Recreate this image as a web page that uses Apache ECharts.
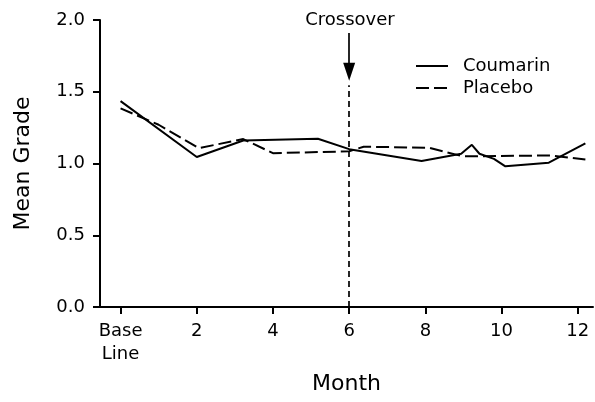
<!DOCTYPE html>
<html>
<head>
<meta charset="utf-8">
<script src="https://cdn.jsdelivr.net/npm/echarts@6/dist/echarts.min.js"></script>
<style>
  html, body { margin: 0; padding: 0; background: #fff; }
  #chart { width: 595px; height: 402px; }
</style>
</head>
<body>
<div id="chart"></div>
<script>
// month, mean grade
var coumarin = [[0, 1.435], [2, 1.045], [3.22, 1.16], [5.18, 1.172], [6, 1.1], [7.9, 1.018],
  [8.94, 1.068], [9.22, 1.13], [9.42, 1.068], [9.8, 1.032], [10.1, 0.98], [11.24, 1.006], [12.2, 1.14]];
var placebo = [[0, 1.384], [1, 1.27], [2.05, 1.107], [3.22, 1.17], [4.0, 1.072], [6, 1.085],
  [6.38, 1.117], [8.1, 1.11], [8.98, 1.05], [11.3, 1.056], [12.2, 1.028]];
var xTickValues = [0, 2, 4, 6, 8, 10, 12];
var xTickLabels = ['Base\nLine', '2', '4', '6', '8', '10', '12'];
var crossoverMonth = 6;

var font = 'DejaVu Sans';
var chart = echarts.init(document.getElementById('chart'));
chart.setOption({
  animation: false,
  textStyle: { fontFamily: font, color: '#000' },
  grid: { left: 100, right: 2, top: 20, bottom: 95 },
  legend: {
    left: 410, top: 52, orient: 'vertical', itemWidth: 32, itemHeight: 12, itemGap: 4,
    itemStyle: { opacity: 0 },
    textStyle: { fontFamily: font, fontSize: 18, color: '#000', padding: [0, 0, 0, 10] },
    data: ['Coumarin', 'Placebo']
  },
  xAxis: {
    type: 'value', min: -0.54, max: 12.4,
    name: 'Month', nameLocation: 'middle', nameGap: 66,
    nameTextStyle: { fontFamily: font, fontSize: 22, color: '#000' },
    axisLine: { onZero: false, lineStyle: { color: '#000', width: 2 } },
    axisTick: { show: true, length: 7, customValues: xTickValues, lineStyle: { color: '#000', width: 2 } },
    axisLabel: {
      fontFamily: font, fontSize: 18, color: '#000', margin: 13, lineHeight: 23,
      customValues: xTickValues,
      formatter: function (v) {
        var i = xTickValues.indexOf(v);
        return i >= 0 ? xTickLabels[i] : '';
      }
    },
    splitLine: { show: false }
  },
  yAxis: {
    type: 'value', min: 0, max: 2, interval: 0.5,
    name: 'Mean Grade', nameLocation: 'middle', nameGap: 66,
    nameTextStyle: { fontFamily: font, fontSize: 22, color: '#000' },
    axisLine: { show: true, onZero: false, lineStyle: { color: '#000', width: 2 } },
    axisTick: { show: true, length: 7, lineStyle: { color: '#000', width: 2 } },
    axisLabel: {
      fontFamily: font, fontSize: 18, color: '#000', margin: 15,
      formatter: function (v) { return v.toFixed(1); }
    },
    splitLine: { show: false }
  },
  series: [{
    name: 'Coumarin', type: 'line', data: coumarin, symbol: 'none',
    lineStyle: { color: '#000', width: 2 }, itemStyle: { color: '#000' },
    markLine: {
      silent: true, animation: false,
      data: [
        [{ coord: [crossoverMonth, 0], symbol: 'none' }, { coord: [crossoverMonth, 1.545], symbol: 'none' }],
        [{ coord: [crossoverMonth, 1.91], symbol: 'none', lineStyle: { type: 'solid' } },
         { coord: [crossoverMonth, 1.64], symbol: 'triangle', symbolSize: [12, 18] }]
      ],
      lineStyle: { color: '#000', width: 1.7, type: [6, 4] },
      label: { show: false }
    }
  }, {
    name: 'Placebo', type: 'line', data: placebo, symbol: 'none',
    lineStyle: { color: '#000', width: 2, type: [13, 5] }, itemStyle: { color: '#000' }
  }],
  graphic: [{
    type: 'text', x: 350, y: 20,
    style: { text: 'Crossover', fontFamily: font, fontSize: 18, fill: '#000', align: 'center', verticalAlign: 'middle' }
  }]
});
</script>
</body>
</html>
